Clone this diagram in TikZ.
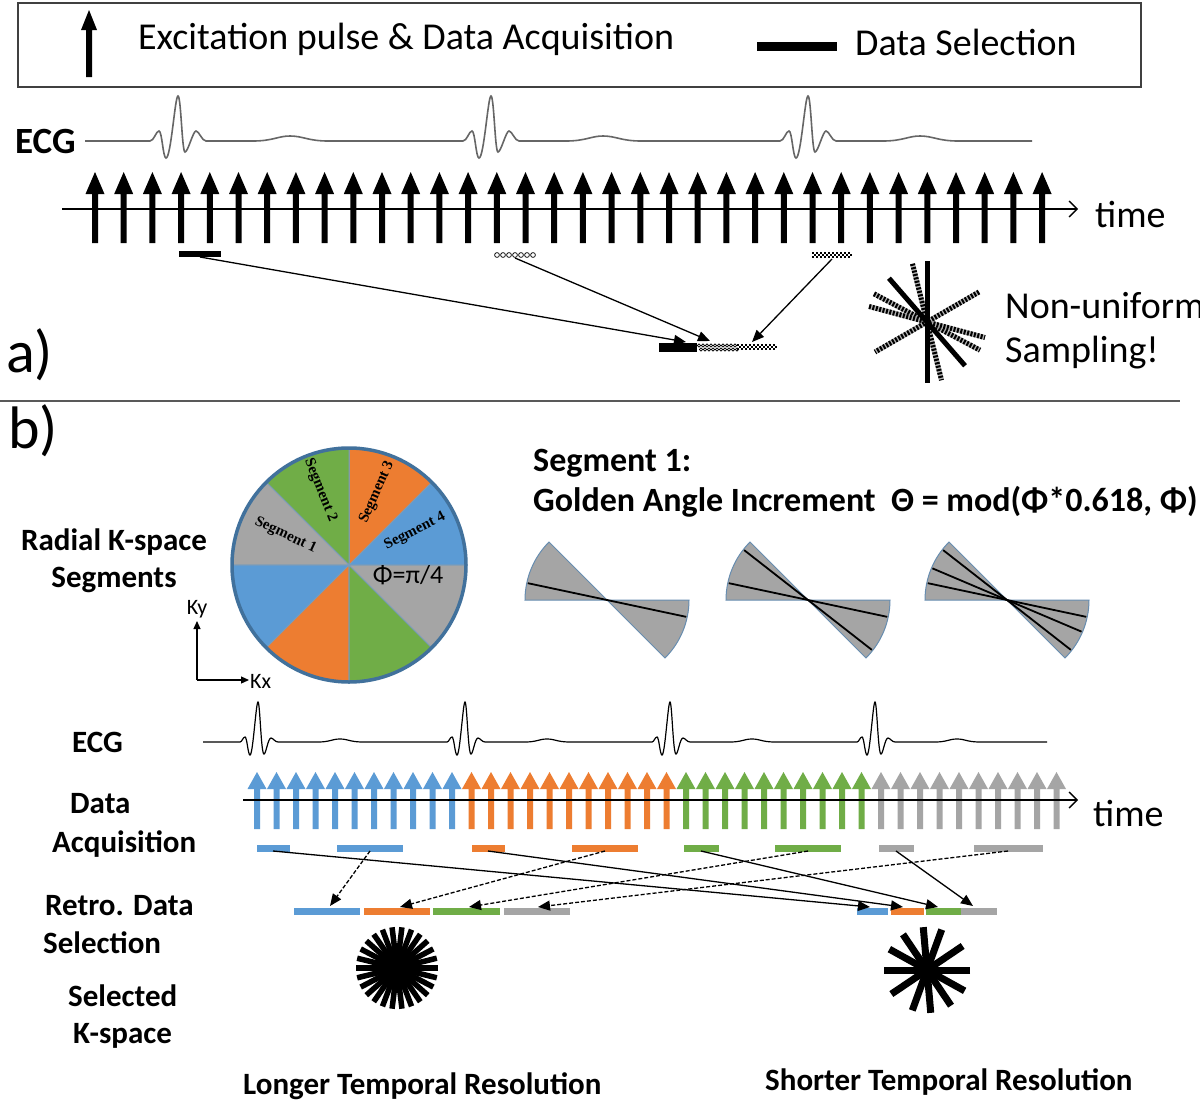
\documentclass[tikz,border=0pt]{standalone}
\usepackage{fontspec}
\setmainfont{Carlito}
\newfontfamily\segfont{Liberation Serif}
\usetikzlibrary{arrows.meta}
\definecolor{cBlue}{HTML}{5B9BD5}
\definecolor{cOrange}{HTML}{ED7D31}
\definecolor{cGreen}{HTML}{70AD47}
\definecolor{cGray}{HTML}{A5A5A5}
\definecolor{cEdge}{HTML}{41719C}
\newcommand\fsz[1]{\fontsize{#1}{#1}\selectfont}
% x, tip y, bottom y, head half width, head length, shaft half width, colour
\newcommand\pulsearr[7]{%
  \fill[#7] ({#1-#4},{#2+#5}) -- (#1,#2) -- ({#1+#4},{#2+#5}) -- ({#1+#6},{#2+#5})
    -- ({#1+#6},#3) -- ({#1-#6},#3) -- ({#1-#6},{#2+#5}) -- cycle;}
\newcommand\checkbar[3]{%
  \foreach \k in {1,...,#3}{%
    \pgfmathsetmacro\kx{#1+4*(\k-1)}%
    \fill (\kx,#2) rectangle ++(2,2);
    \fill ({\kx+2},{#2+2}) rectangle ++(2,2);
    \fill (\kx,{#2+4}) rectangle ++(2,2);
  }}
\newcommand\selbar[4]{\fill[#1] (#2,{#4-3.5}) rectangle (#3,{#4+3.5});}
\begin{document}
\begin{tikzpicture}[x=1pt,y=-1pt,
  txt/.style={inner sep=0pt, anchor=base west},
  ctxt/.style={inner sep=0pt, anchor=base},
  reg/.style={font=\fsz{38}},
  lbl/.style={font=\bfseries\fsz{31}},
  seglbl/.style={inner sep=0pt, font=\segfont\bfseries\fsz{15}},
  conn/.style={line width=1.3, -{Triangle[length=12pt,width=10pt]}},
  dconn/.style={conn, dash pattern=on 4pt off 2pt},
  ecgA/.style={line width=1.6, draw=black!60},
  ecgB/.style={line width=1.2, draw=black},
  hatch/.style={line width=5, dash pattern=on 2pt off 1.5pt},
  axis/.style={line width=1.4, -{Straight Barb[length=8pt,width=16pt,line width=1.4pt]}},
]
\useasboundingbox (0,0) rectangle (1200,1103);
\fill[white] (0,0) rectangle (1200,1103);

% ================= Part a =================
\draw[line width=1.5, black!75] (18,3) rectangle (1141,87);
\pulsearr{89}{10}{77}{8}{20}{3}{black}
\node[txt, reg] (lgA) at (138,49) {Excitation pulse \& Data Acquisition};
\fill (757,42) rectangle (837,51);
\node[txt, reg] (lgB) at (855,55) {Data Selection};

\node[txt, font=\bfseries\fsz{37}] (lecgA) at (15,153) {ECG};
\draw[ecgA] (85,141)
 \foreach \c in {178,491,808} {
   -- ({\c-28},141)
   .. controls ({\c-24},141) and ({\c-22},131) .. ({\c-19},131)
   .. controls ({\c-16},131) and ({\c-15},158) .. ({\c-12},158)
   .. controls ({\c-7},158) and ({\c-3},96) .. ({\c},96)
   .. controls ({\c+3},96) and ({\c+4},152) .. ({\c+7},152)
   .. controls ({\c+10},152) and ({\c+15},131) .. ({\c+18},131)
   .. controls ({\c+21},131) and ({\c+24},141) .. ({\c+28},141)
   -- ({\c+75},141)
   .. controls ({\c+95},141) and ({\c+100},136) .. ({\c+112},136)
   .. controls ({\c+125},136) and ({\c+130},141) .. ({\c+150},141)
 } -- (1032,141);

\foreach \i in {0,...,33} {
  \pgfmathsetmacro\xx{95+28.7*\i}
  \pulsearr{\xx}{172}{243}{9.5}{22}{3}{black}
}
\coordinate (axAs) at (62,209);
\coordinate (axAe) at (1078,209);
\draw[axis] (axAs) -- (axAe);
\node[txt, reg] (timeA) at (1095,227) {time};

% selection bars
\fill (179,251) rectangle (221,257);
\foreach \k in {0,...,6} \draw[line width=0.7] ({497+6*\k},255) circle (2.4);
\checkbar{812}{252}{10}
% combined bar
\fill (659,343) rectangle (697,352);
\foreach \k in {0,...,9} {
  \draw[line width=0.7] ({699+4*\k},345.5) circle (1.6);
  \draw[line width=0.7] ({701+4*\k},349.5) circle (1.6);
}
\checkbar{737}{344}{10}
\coordinate (sA) at (200,257);
\coordinate (sB) at (515,258);
\coordinate (sC) at (832,259);
\coordinate (tA) at (686,342);
\coordinate (tB) at (710,341);
\coordinate (tC) at (752,342);
\draw[conn] (sA) -- (tA);
\draw[conn] (sB) -- (tB);
\draw[conn] (sC) -- (tC);

\node[txt, font=\fsz{60}] (la) at (6,372) {a)};

% non-uniform star
\begin{scope}[shift={(927,322)}, y=1pt]
  \foreach \a in {104,152,165,30} {
    \draw[line width=5, black!30] (\a:60) -- ({\a+180}:60);
    \draw[hatch] (\a:60) -- ({\a+180}:60);
  }
  \draw[line width=5] (90:61) -- (270:61);
  \draw[line width=5] (131:58) -- (-49:58);
\end{scope}
\node[txt, reg] (nu1) at (1005,318) {Non-uniform};
\node[txt, reg] (nu2) at (1005,362) {Sampling!};

\draw[line width=2, black!65] (0,401) -- (1180,401);

% ================= Part b =================
\node[txt, font=\fsz{60}] (lb) at (8,448) {b)};

\begin{scope}[shift={(349,565)}, y=1pt]
  \foreach \a/\col in {0/cBlue,45/cOrange,90/cGreen,135/cGray,180/cBlue,225/cOrange,270/cGreen,315/cGray}
    \filldraw[fill=\col, draw=cEdge!70, line width=1] (0,0) -- (\a:117) arc[start angle=\a, delta angle=45, radius=117] -- cycle;
  \draw[cEdge, line width=3.5] (0,0) circle (117);
  \node[seglbl, rotate=-25] (sg1) at (155:70) {Segment 1};
  \node[seglbl, rotate=-68] (sg2) at (111:80) {Segment 2};
  \node[seglbl, rotate=66] (sg3) at (69:78) {Segment 3};
  \node[seglbl, rotate=27] (sg4) at (27:74) {Segment 4};
  \node[font=\fsz{26}] (phi) at (-10:60) {Φ=π/4};
\end{scope}

\node[ctxt, lbl] (rk1) at (114,550) {Radial K-space};
\node[ctxt, lbl] (rk2) at (114,587) {Segments};

\coordinate (kO) at (197,680);
\coordinate (kY) at (197,621);
\coordinate (kX) at (249,680);
\draw[line width=1.2, -{Triangle[length=8pt,width=7pt]}] (kO) -- (kY);
\draw[line width=1.2, -{Triangle[length=8pt,width=7pt]}] (kO) -- (kX);
\node[font=\fsz{22}, inner sep=0pt, anchor=south] (ky) at (197,618) {Ky};
\node[font=\fsz{22}, inner sep=0pt, anchor=west] (kx) at (250,681) {Kx};

\node[txt, font=\bfseries\fsz{34}] (seg1) at (533,471) {Segment 1:};
\node[txt, font=\bfseries\fsz{34}] (gold) at (533,511) {Golden Angle Increment\ \ Θ = mod(Φ*0.618, Φ)};

\foreach \cx/\lines in {607/{168}, 808/{168,142}, 1007/{168,142,157}} {
  \begin{scope}[shift={(\cx,600)}, y=1pt]
    \filldraw[fill=cGray, draw=cEdge!80, line width=1] (0,0) -- (180:82) arc[start angle=180, end angle=135, radius=82] -- cycle;
    \filldraw[fill=cGray, draw=cEdge!80, line width=1] (0,0) -- (0:82) arc[start angle=0, end angle=-45, radius=82] -- cycle;
    \foreach \a in \lines \draw[line width=1.8] (\a:81) -- ({\a+180}:81);
  \end{scope}
}

% ECG b
\node[txt, lbl] (lecgB) at (72,752) {ECG};
\draw[ecgB] (203,742)
 \foreach \c in {258,465,670,875} {
   -- ({\c-18},742)
   .. controls ({\c-16},742) and ({\c-15},737) .. ({\c-13},737)
   .. controls ({\c-11},737) and ({\c-10},755) .. ({\c-8},755)
   .. controls ({\c-5},755) and ({\c-2},702) .. ({\c},702)
   .. controls ({\c+2},702) and ({\c+3},754) .. ({\c+6},754)
   .. controls ({\c+8},754) and ({\c+10},738) .. ({\c+13},738)
   .. controls ({\c+15},738) and ({\c+17},742) .. ({\c+20},742)
   -- ({\c+60},742)
   .. controls ({\c+72},742) and ({\c+74},739) .. ({\c+82},739)
   .. controls ({\c+90},739) and ({\c+92},742) .. ({\c+105},742)
 } -- (1047,742);

\foreach \i in {0,...,41} {
  \pgfmathsetmacro\xx{257+19.5*\i}
  \ifnum\i<11 \def\cc{cBlue}\else\ifnum\i<22 \def\cc{cOrange}\else\ifnum\i<32 \def\cc{cGreen}\else\def\cc{cGray}\fi\fi\fi
  \pulsearr{\xx}{772}{829}{9.5}{17}{3}{\cc}
}
\coordinate (axBs) at (243,800);
\coordinate (axBe) at (1078,800);
\draw[axis] (axBs) -- (axBe);
\node[txt, reg] (timeB) at (1093,826) {time};

\node[txt, lbl] (da1) at (70,813) {Data};
\node[txt, lbl] (da2) at (52,852) {Acquisition};
\node[txt, lbl] (rs1) at (45,915) {Retro. Data};
\node[txt, lbl] (rs2) at (43,953) {Selection};
\node[txt, lbl] (sk1) at (68,1006) {Selected};
\node[txt, lbl] (sk2) at (73,1043) {K-space};

% acquisition bars
\selbar{cBlue}{257}{290}{848}
\selbar{cBlue}{337}{403}{848}
\selbar{cOrange}{472}{505}{848}
\selbar{cOrange}{572}{638}{848}
\selbar{cGreen}{684}{719}{848}
\selbar{cGreen}{775}{841}{848}
\selbar{cGray}{879}{914}{848}
\selbar{cGray}{974}{1043}{848}
% retro bars
\selbar{cBlue}{294}{360}{911}
\selbar{cOrange}{364}{430}{911}
\selbar{cGreen}{433}{500}{911}
\selbar{cGray}{504}{570}{911}
\selbar{cBlue}{857}{888}{911}
\selbar{cOrange}{891}{924}{911}
\selbar{cGreen}{926}{961}{911}
\selbar{cGray}{961}{997}{911}

\coordinate (ss1) at (273,851);
\coordinate (ss2) at (488,851);
\coordinate (ss3) at (701,851);
\coordinate (ss4) at (896,851);
\coordinate (ts1) at (870,907);
\coordinate (ts2) at (903,907);
\coordinate (ts3) at (938,907);
\coordinate (ts4) at (973,906);
\coordinate (ls1) at (370,851);
\coordinate (ls2) at (605,851);
\coordinate (ls3) at (808,851);
\coordinate (ls4) at (1008,851);
\coordinate (tl1) at (330,906);
\coordinate (tl2) at (400,907);
\coordinate (tl3) at (469,907);
\coordinate (tl4) at (538,907);
\foreach \n in {1,2,3,4} {
  \draw[conn] (ss\n) -- (ts\n);
  \draw[dconn] (ls\n) -- (tl\n);
}

% stars
\begin{scope}[shift={(397,968)}, y=1pt]
  \foreach \a in {0,13.85,...,179} \draw[line width=5.5] (\a:41) -- ({\a+180}:41);
\end{scope}
\begin{scope}[shift={(927,970)}, y=1pt]
  \foreach \a in {0,34,70,95,124,151} \draw[line width=7] (\a:43) -- ({\a+180}:43);
\end{scope}
\node[txt, lbl] (lt) at (243,1094) {Longer Temporal Resolution};
\node[txt, lbl] (st) at (765,1090) {Shorter Temporal Resolution};
\end{tikzpicture}
\end{document}
